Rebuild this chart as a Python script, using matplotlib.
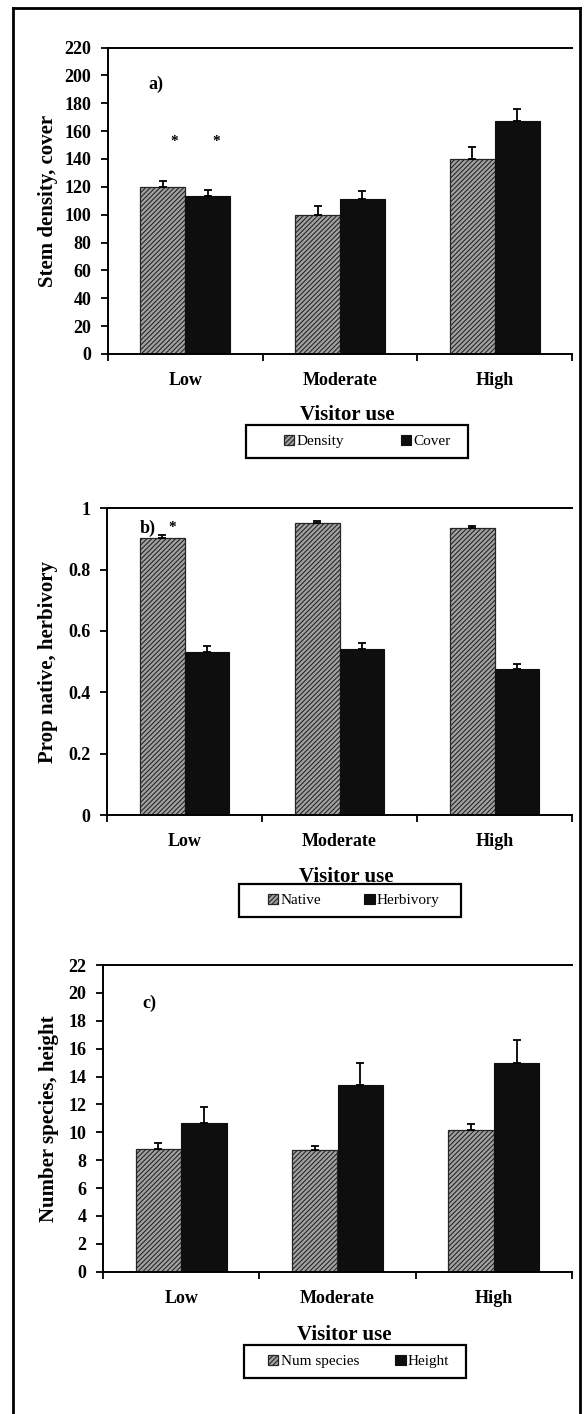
"""
Three stacked bar panels: plant response vs visitor use (a, b, c).
"""

import matplotlib

matplotlib.use("Agg")
import matplotlib.pyplot as plt
import numpy as np
from matplotlib.lines import Line2D
from matplotlib.patches import Rectangle
from matplotlib.ticker import FuncFormatter

plt.rcParams["font.family"] = ["Liberation Serif", "DejaVu Serif"]
plt.rcParams["hatch.linewidth"] = 0.8

W, H = 585, 1414  # output size in pixels (dpi 100)

CATEGORIES = ["Low", "Moderate", "High"]
X_LABEL = "Visitor use"

# a) stem density and cover
density = [120, 100, 140]
density_err = [4.5, 6.5, 8.5]
cover = [113.5, 111, 167]
cover_err = [4.5, 6, 9]

# b) proportion native and herbivory
native = [0.903, 0.953, 0.936]
native_err = [0.010, 0.005, 0.006]
herbivory = [0.532, 0.542, 0.476]
herbivory_err = [0.019, 0.018, 0.017]

# c) number of species and height
num_species = [8.8, 8.7, 10.2]
num_species_err = [0.4, 0.3, 0.4]
height = [10.7, 13.4, 15.0]
height_err = [1.1, 1.55, 1.6]

HATCH_FACE = "#a2a2a2"
HATCH_EDGE = "#262626"
SOLID = "#0e0e0e"
BAR_W = 0.29


def fig_rect(left, top, right, bottom):
    return [left / W, 1 - bottom / H, (right - left) / W, (bottom - top) / H]


def draw_panel(fig, p):
    left, top, right, bottom = p["box"]
    ax = fig.add_axes(fig_rect(left, top, right, bottom))
    x = np.arange(len(CATEGORIES))
    s1, e1, n1 = p["first"]
    s2, e2, n2 = p["second"]

    ax.bar(x - BAR_W / 2, s1, BAR_W, facecolor=HATCH_FACE, edgecolor=HATCH_EDGE,
           hatch="///////", linewidth=0.9, label=n1, zorder=2)
    ax.bar(x + BAR_W / 2, s2, BAR_W, color=SOLID, edgecolor=SOLID,
           linewidth=0.8, label=n2, zorder=2)
    zeros = np.zeros(len(x))
    for xs, vals, err in ((x - BAR_W / 2, s1, e1), (x + BAR_W / 2, s2, e2)):
        ax.errorbar(xs, vals, yerr=[zeros, err], fmt="none", ecolor="black",
                    elinewidth=1.3, capsize=3, capthick=1.3, zorder=3)

    ax.set_xlim(-0.5, -0.5 + (right - left) / p["cat_px"])
    ax.set_ylim(0, p["ymax"])
    ax.set_yticks(np.arange(0, p["ymax"] + p["ystep"] / 2, p["ystep"]))
    ax.yaxis.set_major_formatter(FuncFormatter(lambda v, _: f"{v:g}"))
    ax.set_xticks(x)
    ax.set_xticklabels(CATEGORIES)
    ax.set_xticks(np.arange(-0.5, len(x), 1.0), minor=True)

    for side in ("left", "bottom", "top"):
        ax.spines[side].set_linewidth(1.4)
    ax.spines["right"].set_visible(False)
    ax.tick_params(axis="y", direction="out", length=5, width=1.3, pad=7,
                   labelsize=13)
    ax.tick_params(axis="x", which="major", length=0, pad=13, labelsize=13)
    ax.tick_params(axis="x", which="minor", direction="out", length=5, width=1.3)
    for lab in ax.get_xticklabels() + ax.get_yticklabels():
        lab.set_fontweight("bold")

    # axis titles
    ax_h = bottom - top
    ax_w = right - left
    ax.text((p["ylabel_x"] - left) / ax_w, 0.5, p["ylabel"], transform=ax.transAxes,
            rotation=90, ha="center", va="center", fontsize=15, fontweight="bold")
    ax.text((p["xlabel_x"] - left) / ax_w, -(p["xlabel_y"] - bottom) / ax_h, X_LABEL,
            transform=ax.transAxes, ha="center", va="center", fontsize=15,
            fontweight="bold")

    # panel tag and significance stars
    tx, ty = p["tag_pos"]
    ax.text(tx, ty, p["tag"], ha="left", va="baseline", fontsize=13, fontweight="bold")
    for sx in p["stars"]:
        ax.text(sx, p["star_y"], "*", ha="center", va="baseline", fontsize=11,
                fontweight="bold")

    # legend with its own rectangular frame
    lx0, ly0, lx1, ly1 = p["legend_box"]
    fig.patches.append(Rectangle((lx0 / W, 1 - ly1 / H), (lx1 - lx0) / W, (ly1 - ly0) / H,
                                 transform=fig.transFigure, fill=False,
                                 edgecolor="black", linewidth=1.6))
    ax.legend(loc="center left", bbox_to_anchor=(p["legend_x"] / W, 1 - (ly0 + ly1) / 2 / H),
              bbox_transform=fig.transFigure, ncol=2, frameon=False, fontsize=11,
              borderpad=0, handlelength=0.7, handleheight=0.7, handletextpad=0.15,
              columnspacing=p["legend_gap"])
    return ax


PANELS = [
    dict(box=(108, 47.5, 572, 354), cat_px=158, ymax=220, ystep=20,
         first=(density, density_err, "Density"), second=(cover, cover_err, "Cover"),
         ylabel="Stem density, cover", ylabel_x=48.5, xlabel_x=347, xlabel_y=415,
         tag="a)", tag_pos=(-0.24, 190), stars=[-0.075, 0.2], star_y=150,
         legend_box=(246, 425, 468, 458), legend_x=276, legend_gap=3.7),
    dict(box=(107, 508.3, 572, 815), cat_px=158, ymax=1.0, ystep=0.2,
         first=(native, native_err, "Native"), second=(herbivory, herbivory_err, "Herbivory"),
         ylabel="Prop native, herbivory", ylabel_x=48.5, xlabel_x=346, xlabel_y=877,
         tag="b)", tag_pos=(-0.29, 0.919), stars=[-0.08], star_y=0.925,
         legend_box=(239, 884, 461, 917), legend_x=260, legend_gap=2.8),
    dict(box=(103, 965, 572, 1271.7), cat_px=160, ymax=22, ystep=2,
         first=(num_species, num_species_err, "Num species"), second=(height, height_err, "Height"),
         ylabel="Number species, height", ylabel_x=48.5, xlabel_x=344, xlabel_y=1335,
         tag="c)", tag_pos=(-0.246, 18.9), stars=[], star_y=0,
         legend_box=(243.6, 1345, 465.6, 1378), legend_x=260, legend_gap=2.35),
]


def main() -> None:
    fig = plt.figure(figsize=(W / 100, H / 100), dpi=100)
    fig.patch.set_facecolor("white")

    # outer frame around the whole figure (open at the bottom)
    fx0, fy0, fx1 = 13, 8, 580
    for xs, ys in (([fx0, fx1], [fy0, fy0]), ([fx0, fx0], [fy0, H + 5]), ([fx1, fx1], [fy0, H + 5])):
        fig.add_artist(Line2D([v / W for v in xs], [1 - v / H for v in ys],
                              transform=fig.transFigure, color="black", linewidth=2))

    for p in PANELS:
        draw_panel(fig, p)

    fig.savefig("out.png", dpi=100)
    plt.close(fig)


if __name__ == "__main__":
    main()
